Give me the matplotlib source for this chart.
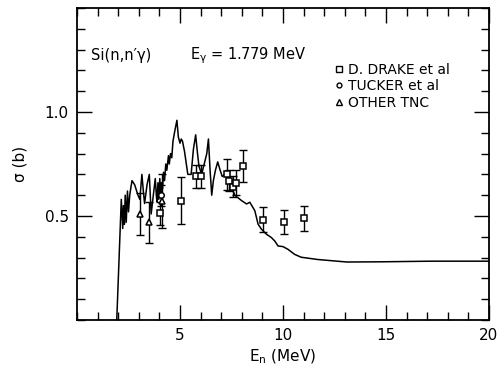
import matplotlib
matplotlib.use("Agg")
from matplotlib import pyplot as plt
from matplotlib.lines import Line2D
from matplotlib.ticker import MultipleLocator

# evaluated cross section curve (MeV, barns)
e_curve = [1.93, 2.15, 2.22, 2.26, 2.30, 2.34, 2.39, 2.45, 2.50, 2.56, 2.62, 2.67,
           2.80, 2.96, 3.05, 3.15, 3.22, 3.28, 3.40, 3.51, 3.60, 3.67, 3.74, 3.80,
           3.85, 3.88, 3.93, 3.97, 4.02, 4.06, 4.10, 4.15, 4.20, 4.25, 4.31, 4.36,
           4.44, 4.48, 4.54, 4.60, 4.66, 4.75, 4.85, 4.92, 5.00, 5.06, 5.12, 5.22,
           5.38, 5.54, 5.65, 5.76, 5.85, 5.92, 6.05, 6.20, 6.30, 6.38, 6.46, 6.54,
           6.62, 6.72, 6.83, 6.95, 7.05, 7.18, 7.42, 7.66, 7.99, 8.23, 8.39, 8.63,
           8.79, 8.95, 9.19, 9.43, 9.60, 9.76, 10.0, 10.24, 10.56, 10.88, 11.69,
           13.1, 14.8, 17.2, 20.0]
s_curve = [0.00, 0.58, 0.44, 0.55, 0.46, 0.60, 0.47, 0.62, 0.52, 0.60, 0.64, 0.67,
           0.65, 0.60, 0.58, 0.70, 0.62, 0.56, 0.65, 0.70, 0.51, 0.57, 0.63, 0.68,
           0.60, 0.57, 0.66, 0.58, 0.68, 0.61, 0.66, 0.63, 0.71, 0.67, 0.75, 0.72,
           0.79, 0.75, 0.80, 0.78, 0.86, 0.91, 0.96, 0.88, 0.85, 0.87, 0.86, 0.81,
           0.70, 0.70, 0.82, 0.89, 0.80, 0.74, 0.70, 0.76, 0.80, 0.87, 0.72, 0.60,
           0.67, 0.72, 0.76, 0.72, 0.69, 0.70, 0.66, 0.60, 0.574, 0.558, 0.566, 0.526,
           0.461, 0.437, 0.413, 0.397, 0.38, 0.356, 0.353, 0.34, 0.316, 0.302, 0.291,
           0.279, 0.280, 0.283, 0.283]

# D. Drake et al
e_drake = [4.05, 5.05, 5.80, 6.02, 7.26, 7.40, 7.58, 7.72, 8.05, 9.05, 10.05, 11.04]
s_drake = [0.513, 0.574, 0.69, 0.69, 0.70, 0.67, 0.64, 0.66, 0.74, 0.482, 0.472, 0.49]
d_drake = [0.055, 0.112, 0.057, 0.057, 0.073, 0.05, 0.05, 0.06, 0.076, 0.06, 0.058, 0.06]

# Tucker et al
e_tucker = [4.09]
s_tucker = [0.60]
d_tucker = [0.05]

# other TNC
e_tnc = [3.04, 3.51, 4.12]
s_tnc = [0.51, 0.469, 0.574]
d_tnc = [0.10, 0.097, 0.13]

plt.rcParams["font.family"] = "DejaVu Sans"
fig = plt.figure(figsize=(5.0, 3.77), dpi=100)
ax = fig.add_axes([0.154, 0.151, 0.824, 0.828])

ax.plot(e_curve, s_curve, color="black", lw=1.1)

mk = dict(fmt="none", ecolor="black", elinewidth=1.0, capsize=3, capthick=1.0)
ax.errorbar(e_drake, s_drake, yerr=d_drake, **mk)
ax.errorbar(e_tucker, s_tucker, yerr=d_tucker, **mk)
ax.errorbar(e_tnc, s_tnc, yerr=d_tnc, **mk)
ax.plot(e_drake, s_drake, ls="none", marker="s", ms=4.5, mfc="white", mec="black", mew=1.1)
ax.plot(e_tucker, s_tucker, ls="none", marker="o", ms=4.0, mfc="white", mec="black", mew=1.1)
ax.plot(e_tnc, s_tnc, ls="none", marker="^", ms=4.5, mfc="white", mec="black", mew=1.1)

ax.set_xlim(0, 20)
ax.set_ylim(0, 1.5)
ax.set_xticks([5, 10, 15, 20])
ax.set_yticks([0.5, 1.0])
ax.set_yticklabels(["0.5", "1.0"])
ax.xaxis.set_minor_locator(MultipleLocator(1))
ax.yaxis.set_minor_locator(MultipleLocator(0.1))
ax.tick_params(which="both", direction="in", top=True, right=True, width=1.0,
               labelsize=11, pad=6)
ax.tick_params(which="major", length=11)
ax.tick_params(which="minor", length=6)
for sp in ax.spines.values():
    sp.set_linewidth(1.3)

ax.set_xlabel(r"E$_\mathregular{n}$ (MeV)", fontsize=11, labelpad=3)
ax.set_ylabel("σ (b)", fontsize=11, labelpad=12)

ax.text(0.7, 1.27, "Si(n,n′γ)", fontsize=10.5, va="center")
ax.text(5.5, 1.27, r"E$_\mathregular{\gamma}$ = 1.779 MeV", fontsize=10.5, va="center")

handles = [
    Line2D([], [], ls="none", marker="s", ms=4, mfc="white", mec="black", mew=1.0),
    Line2D([], [], ls="none", marker="o", ms=3.5, mfc="white", mec="black", mew=1.0),
    Line2D([], [], ls="none", marker="^", ms=4, mfc="white", mec="black", mew=1.0),
]
ax.legend(handles, ["D. DRAKE et al", "TUCKER et al", "OTHER TNC"],
          loc="upper left", bbox_to_anchor=(0.625, 0.825), frameon=False,
          fontsize=10, handlelength=0.6, handletextpad=0.4, labelspacing=0.2,
          borderpad=0, borderaxespad=0)

fig.savefig("out.png", dpi=100)
plt.close(fig)
